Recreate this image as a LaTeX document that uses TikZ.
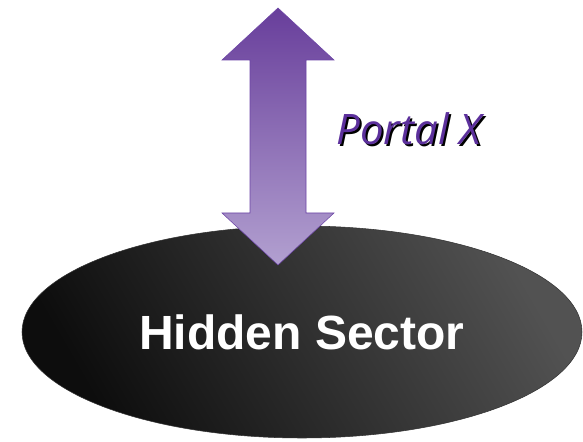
\documentclass[tikz,border=0pt]{standalone}
\usepackage{fontspec}
\setmainfont{Liberation Sans}
\newfontfamily\portalfont{Open Sans}
\usetikzlibrary{shapes.geometric}
\definecolor{portalpurple}{RGB}{92,48,156}
\definecolor{arrowtop}{RGB}{104,62,155}
\definecolor{arrowbottom}{RGB}{178,160,208}
\tikzstyle{sector}=[ellipse, draw=black!80, inner sep=0pt, minimum width=420pt, minimum height=159pt,
  left color=black!95, right color=black!68, shading angle=120]
\tikzstyle{portal}=[font=\portalfont\itshape\fontsize{31.5}{36}\selectfont, inner sep=0pt]

\begin{document}
\begin{tikzpicture}[x=0.75pt, y=-0.75pt]
  \useasboundingbox (0,0) rectangle (583,442);
  % hidden sector
  \node[sector, text=white, font=\bfseries\fontsize{36}{40}\selectfont] (hidden) at (302,332) {Hidden Sector};
  % double arrow
  \draw[draw=portalpurple!90, top color=arrowtop, bottom color=arrowbottom]
    (278,8) -- (334,60) -- (306,60) -- (306,213) -- (334,213) -- (278,265)
    -- (222,213) -- (250,213) -- (250,60) -- (222,60) -- cycle;
  % label with shadow
  \node[portal, text=black] (portalshadow) at (411,131) {Portal X};
  \node[portal, text=portalpurple] (portal) at (409,129) {Portal X};
\end{tikzpicture}
\end{document}
